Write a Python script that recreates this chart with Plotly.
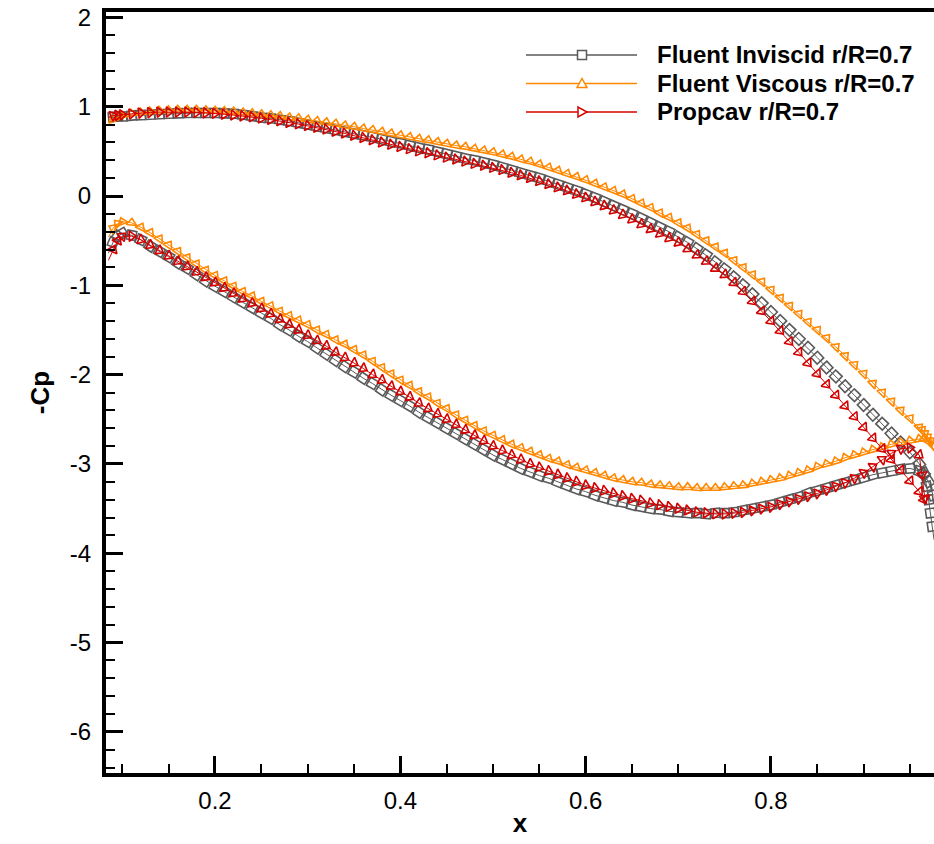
import plotly.graph_objects as go

# ---------------- data ----------------
X_GRID = [0.085, 0.09, 0.095, 0.10, 0.11, 0.12, 0.13, 0.14, 0.15, 0.16,
          0.17, 0.18, 0.19, 0.20, 0.21, 0.22, 0.23, 0.24, 0.25, 0.26,
          0.27, 0.28, 0.29, 0.30, 0.31, 0.32, 0.33, 0.34, 0.35, 0.36,
          0.37, 0.38, 0.39, 0.40, 0.41, 0.42, 0.43, 0.44, 0.45, 0.46,
          0.47, 0.48, 0.49, 0.50, 0.51, 0.52, 0.53, 0.54, 0.55, 0.56,
          0.57, 0.58, 0.59, 0.60, 0.61, 0.62, 0.63, 0.64, 0.65, 0.66,
          0.67, 0.68, 0.69, 0.70, 0.71, 0.72, 0.73, 0.74, 0.75, 0.76,
          0.77, 0.78, 0.79, 0.80, 0.81, 0.82, 0.83, 0.84, 0.85, 0.86,
          0.87, 0.88, 0.89, 0.90, 0.91, 0.92, 0.93, 0.94, 0.95, 0.96]

# Fluent Inviscid
INV_UP = [0.88, 0.885, 0.89, 0.89, 0.90, 0.905, 0.91, 0.915, 0.92, 0.925,
          0.93, 0.93, 0.93, 0.93, 0.925, 0.92, 0.91, 0.895, 0.88, 0.87,
          0.855, 0.84, 0.82, 0.80, 0.78, 0.76, 0.74, 0.72, 0.70, 0.68,
          0.66, 0.635, 0.61, 0.59, 0.565, 0.54, 0.52, 0.495, 0.47, 0.445,
          0.42, 0.40, 0.375, 0.35, 0.32, 0.29, 0.26, 0.23, 0.20, 0.165,
          0.13, 0.095, 0.06, 0.02, -0.02, -0.065, -0.11, -0.155, -0.20, -0.25,
          -0.30, -0.35, -0.40, -0.46, -0.52, -0.59, -0.66, -0.74, -0.82, -0.91,
          -1.00, -1.10, -1.20, -1.30, -1.40, -1.50, -1.60, -1.70, -1.81, -1.92,
          -2.02, -2.13, -2.23, -2.34, -2.45, -2.55, -2.66, -2.76, -2.87, -3.00]
INV_UP_TAIL_X = [0.965, 0.968, 0.970, 0.972, 0.974, 0.976]
INV_UP_TAIL_Y = [-3.10, -3.25, -3.40, -3.55, -3.70, -3.85]
INV_LO = [-0.64, -0.52, -0.45, -0.42, -0.44, -0.49, -0.56, -0.62, -0.68, -0.75,
          -0.81, -0.88, -0.95, -1.01, -1.07, -1.13, -1.19, -1.25, -1.31, -1.37,
          -1.44, -1.50, -1.57, -1.63, -1.70, -1.77, -1.84, -1.91, -1.97, -2.04,
          -2.10, -2.17, -2.23, -2.29, -2.35, -2.42, -2.48, -2.54, -2.60, -2.66,
          -2.72, -2.78, -2.84, -2.90, -2.95, -3.00, -3.05, -3.09, -3.13, -3.16,
          -3.20, -3.24, -3.28, -3.31, -3.35, -3.38, -3.41, -3.43, -3.46, -3.48,
          -3.50, -3.51, -3.53, -3.54, -3.55, -3.55, -3.56, -3.55, -3.55, -3.54,
          -3.52, -3.50, -3.48, -3.46, -3.43, -3.40, -3.37, -3.33, -3.30, -3.27,
          -3.24, -3.21, -3.18, -3.15, -3.12, -3.10, -3.08, -3.06, -3.05, -3.08]
INV_LO_TAIL_X = [0.965, 0.970, 0.975]
INV_LO_TAIL_Y = [-3.12, -3.20, -3.35]

# Fluent Viscous
VIS_UP = [0.84, 0.86, 0.88, 0.90, 0.92, 0.935, 0.945, 0.955, 0.96, 0.965,
          0.965, 0.965, 0.96, 0.955, 0.95, 0.945, 0.935, 0.925, 0.915, 0.905,
          0.895, 0.88, 0.87, 0.855, 0.84, 0.825, 0.81, 0.79, 0.775, 0.755,
          0.74, 0.72, 0.70, 0.68, 0.66, 0.64, 0.625, 0.605, 0.585, 0.565,
          0.55, 0.53, 0.51, 0.49, 0.465, 0.44, 0.41, 0.385, 0.355, 0.32,
          0.285, 0.25, 0.215, 0.18, 0.14, 0.10, 0.06, 0.02, -0.03, -0.08,
          -0.13, -0.19, -0.24, -0.30, -0.36, -0.43, -0.50, -0.57, -0.64, -0.72,
          -0.80, -0.88, -0.96, -1.05, -1.14, -1.23, -1.32, -1.41, -1.50, -1.59,
          -1.69, -1.79, -1.89, -1.99, -2.10, -2.20, -2.30, -2.40, -2.49, -2.59]
VIS_UP_TAIL_X = [0.963, 0.966, 0.969, 0.972, 0.975]
VIS_UP_TAIL_Y = [-2.62, -2.66, -2.70, -2.74, -2.79]
VIS_LO = [-0.46, -0.36, -0.31, -0.29, -0.30, -0.35, -0.41, -0.48, -0.55, -0.62,
          -0.69, -0.76, -0.83, -0.89, -0.95, -1.01, -1.07, -1.12, -1.18, -1.23,
          -1.29, -1.34, -1.39, -1.44, -1.50, -1.55, -1.61, -1.66, -1.72, -1.78,
          -1.85, -1.92, -1.99, -2.06, -2.12, -2.19, -2.25, -2.32, -2.38, -2.45,
          -2.51, -2.57, -2.63, -2.68, -2.73, -2.78, -2.82, -2.86, -2.90, -2.94,
          -2.97, -3.01, -3.04, -3.07, -3.10, -3.13, -3.16, -3.18, -3.20, -3.21,
          -3.23, -3.24, -3.25, -3.26, -3.26, -3.27, -3.27, -3.27, -3.26, -3.25,
          -3.24, -3.22, -3.20, -3.18, -3.16, -3.13, -3.10, -3.07, -3.03, -3.00,
          -2.97, -2.93, -2.90, -2.87, -2.84, -2.81, -2.78, -2.76, -2.74, -2.72]
VIS_LO_TAIL_X = [0.965, 0.970, 0.975]
VIS_LO_TAIL_Y = [-2.72, -2.75, -2.80]

# Propcav
PCV_UP = [0.88, 0.90, 0.905, 0.91, 0.92, 0.93, 0.935, 0.94, 0.94, 0.94,
          0.94, 0.935, 0.93, 0.925, 0.915, 0.905, 0.895, 0.885, 0.87, 0.855,
          0.84, 0.82, 0.805, 0.785, 0.765, 0.745, 0.72, 0.70, 0.675, 0.65,
          0.625, 0.60, 0.575, 0.55, 0.525, 0.50, 0.48, 0.455, 0.43, 0.41,
          0.385, 0.36, 0.34, 0.315, 0.29, 0.26, 0.23, 0.20, 0.165, 0.13,
          0.095, 0.06, 0.02, -0.02, -0.065, -0.11, -0.16, -0.21, -0.26, -0.315,
          -0.37, -0.42, -0.47, -0.52, -0.59, -0.66, -0.73, -0.81, -0.88, -0.97,
          -1.07, -1.18, -1.29, -1.40, -1.51, -1.63, -1.75, -1.87, -1.99, -2.11,
          -2.23, -2.35, -2.47, -2.59, -2.71, -2.83, -2.95, -3.07, -3.19, -3.31]
PCV_UP_TAIL_X = [0.965]
PCV_UP_TAIL_Y = [-3.40]
PCV_LO = [-0.72, -0.60, -0.50, -0.45, -0.45, -0.49, -0.55, -0.61, -0.67, -0.73,
          -0.79, -0.85, -0.91, -0.97, -1.03, -1.09, -1.15, -1.20, -1.26, -1.32,
          -1.38, -1.44, -1.50, -1.56, -1.62, -1.68, -1.75, -1.81, -1.87, -1.93,
          -2.00, -2.06, -2.13, -2.19, -2.25, -2.32, -2.38, -2.44, -2.50, -2.56,
          -2.62, -2.68, -2.74, -2.80, -2.85, -2.90, -2.95, -3.00, -3.04, -3.08,
          -3.12, -3.16, -3.20, -3.24, -3.27, -3.30, -3.33, -3.36, -3.39, -3.41,
          -3.44, -3.46, -3.48, -3.50, -3.52, -3.54, -3.55, -3.56, -3.56, -3.55,
          -3.54, -3.52, -3.50, -3.48, -3.45, -3.42, -3.39, -3.36, -3.33, -3.29,
          -3.25, -3.21, -3.16, -3.10, -3.03, -2.95, -2.88, -2.83, -2.82, -2.90]
PCV_LO_TAIL_X = [0.963, 0.966]
PCV_LO_TAIL_Y = [-3.12, -3.38]

NAMES = ["Fluent Inviscid r/R=0.7", "Fluent Viscous r/R=0.7", "Propcav r/R=0.7"]
X_TICKS = [0.2, 0.4, 0.6, 0.8]
Y_TICKS = [2, 1, 0, -1, -2, -3, -4, -5, -6]
Y_TICK_TEXT = ["2", "1", "0", "-1", "-2", "-3", "-4", "-5", "-6"]

# ---------------- styling ----------------
W, H = 934, 844
ML, MR, MT, MB = 106, 0, 12, 71
PW, PH = W - ML - MR, H - MT - MB
FONT = "Liberation Sans, Arial, Helvetica, sans-serif"

COLORS = ["#5a5a5a", "#ff8800", "#d40000"]
# symbols rotate along the curve direction (angleref='previous')
SYMBOLS = ["square-open", "triangle-left-open", "triangle-up-open"]

series = [
    (X_GRID + INV_UP_TAIL_X, INV_UP + INV_UP_TAIL_Y, X_GRID + INV_LO_TAIL_X, INV_LO + INV_LO_TAIL_Y),
    (X_GRID + VIS_UP_TAIL_X, VIS_UP + VIS_UP_TAIL_Y, X_GRID + VIS_LO_TAIL_X, VIS_LO + VIS_LO_TAIL_Y),
    (X_GRID + PCV_UP_TAIL_X, PCV_UP + PCV_UP_TAIL_Y, X_GRID + PCV_LO_TAIL_X, PCV_LO + PCV_LO_TAIL_Y),
]

fig = go.Figure()
for i, (xu, yu, xl, yl) in enumerate(series):
    for xs, ys in ((xu, yu), (xl, yl)):
        fig.add_trace(go.Scatter(
            x=xs, y=ys, mode="lines+markers", name=NAMES[i], showlegend=False,
            line=dict(color=COLORS[i], width=1),
            marker=dict(symbol=SYMBOLS[i], size=9, color=COLORS[i],
                        angleref="previous",
                        line=dict(color=COLORS[i], width=1.6)),
            cliponaxis=False,
        ))

# ---------------- custom legend (long sample lines like the reference) ----------------
def px_x(px):
    return (px - ML) / PW

def px_y(py):
    return (H - MB - py) / PH

LEG_ROWS = [55, 83.5, 112]
LEG_X0, LEG_X1, LEG_MX, LEG_TX = 526, 637, 582, 655
MARKER_PATHS = [
    "M -4.5,-4.5 L 4.5,-4.5 L 4.5,4.5 L -4.5,4.5 Z",
    "M -5,-4 L 5,-4 L 0,5 Z",
    "M -4,-5 L -4,5 L 5,0 Z",
]
shapes = []
annotations = []
for i, row in enumerate(LEG_ROWS):
    shapes.append(dict(type="line", xref="paper", yref="paper",
                       x0=px_x(LEG_X0), x1=px_x(LEG_X1), y0=px_y(row), y1=px_y(row),
                       line=dict(color=COLORS[i], width=1.5)))
    shapes.append(dict(type="path", xref="paper", yref="paper",
                       xsizemode="pixel", ysizemode="pixel",
                       xanchor=px_x(LEG_MX), yanchor=px_y(row),
                       path=MARKER_PATHS[i], fillcolor="white",
                       line=dict(color=COLORS[i], width=1.5)))
    annotations.append(dict(xref="paper", yref="paper", x=px_x(LEG_TX), y=px_y(row),
                            xanchor="left", yanchor="middle", showarrow=False,
                            text="<b>%s</b>" % NAMES[i],
                            font=dict(family=FONT, size=24, color="black")))

fig.update_layout(
    width=W, height=H,
    margin=dict(l=ML, r=MR, t=MT, b=MB, pad=0),
    paper_bgcolor="white", plot_bgcolor="white",
    font=dict(family=FONT, size=24, color="black"),
    shapes=shapes, annotations=annotations,
    showlegend=False,
)
fig.update_xaxes(
    range=[0.0824, 0.9759], tickvals=X_TICKS, ticktext=[str(v) for v in X_TICKS],
    ticks="inside", ticklen=17, tickwidth=3, tickcolor="black",
    showline=True, linewidth=4, linecolor="black", mirror=True,
    showgrid=False, zeroline=False, ticklabelstandoff=3,
    tickfont=dict(size=24, family=FONT),
    minor=dict(dtick=0.05, tick0=0, ticks="inside", ticklen=9, tickwidth=2,
               tickcolor="black", showgrid=False),
    title=dict(text="<b>x</b>", font=dict(size=26, family=FONT), standoff=2),
)
fig.update_yaxes(
    range=[-6.46, 2.06], tickvals=Y_TICKS, ticktext=Y_TICK_TEXT,
    ticks="inside", ticklen=17, tickwidth=3, tickcolor="black",
    showline=True, linewidth=4, linecolor="black", mirror=False,
    showgrid=False, zeroline=False, ticklabelstandoff=6,
    tickfont=dict(size=24, family=FONT),
    minor=dict(dtick=0.2, tick0=0, ticks="inside", ticklen=9, tickwidth=2,
               tickcolor="black", showgrid=False),
    title=dict(text="<b>-Cp</b>", font=dict(size=26, family=FONT), standoff=14),
)

fig.write_html("out.html")
